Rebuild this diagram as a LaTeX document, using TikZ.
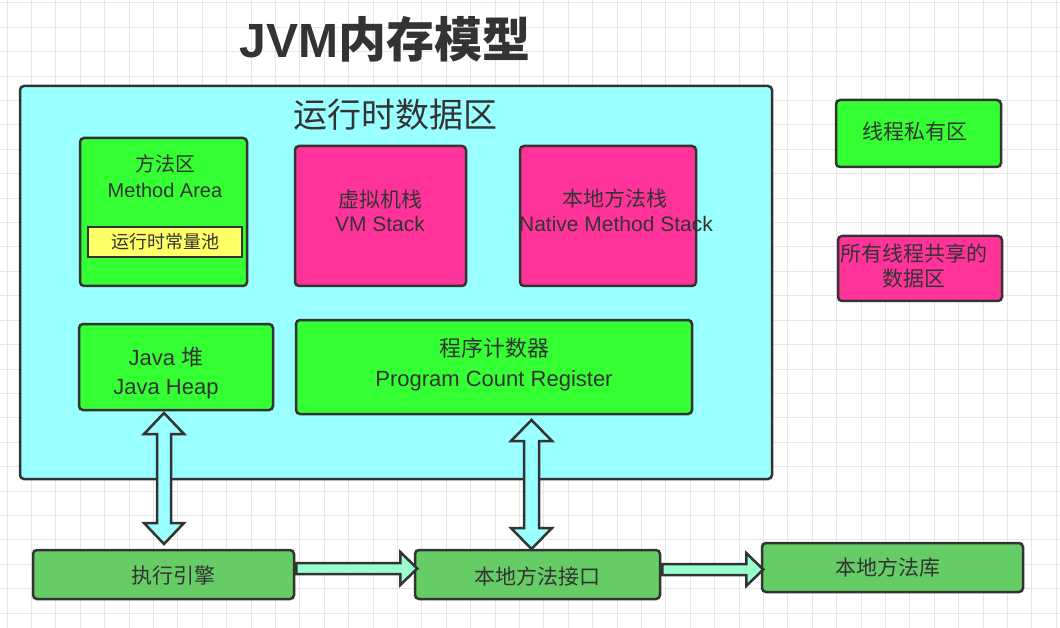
\documentclass[tikz,border=0pt]{standalone}
\usepackage{fontspec}
\usetikzlibrary{calc}
\setmainfont{Liberation Sans}
\newfontfamily\cjk{Noto Sans CJK SC}
\definecolor{bd}{HTML}{333333}
\definecolor{tx}{HTML}{333333}
\definecolor{cyanfill}{HTML}{99FFFF}
\definecolor{greenfill}{HTML}{33FF33}
\definecolor{pinkfill}{HTML}{FF3399}
\definecolor{yellowfill}{HTML}{FFFF66}
\definecolor{dkgreen}{HTML}{66CC66}
\definecolor{mint}{HTML}{99FFCC}
\definecolor{gridc}{HTML}{E6E6E6}
\tikzset{
  box/.style={draw=bd, line width=2.5pt, rounded corners=4pt, inner sep=0pt},
  txt/.style={text=tx, anchor=base, inner sep=0pt},
  blockarrow/.style={draw=bd, line width=2.5pt, line join=miter},
  gridline/.style={draw=gridc, line width=1pt}
}
\newcommand{\fs}[1]{\fontsize{#1}{#1}\selectfont}
\begin{document}
\begin{tikzpicture}[x=1pt,y=-1pt]
\useasboundingbox (0,0) rectangle (1060,628);
\fill[white] (0,0) rectangle (1060,628);
% grid
\foreach \i in {0,...,43} {\draw[gridline] (7+24.4*\i,0) -- (7+24.4*\i,628);}
\foreach \j in {0,...,25} {\draw[gridline] (0,3+24.4*\j) -- (1060,3+24.4*\j);}
% title
\node[txt, font=\fs{48}\bfseries] (title) at (385,58) {JVM{\cjk 内存模型}};
% runtime data area
\node[box, fill=cyanfill, minimum width=752, minimum height=393] (rt) at (396,282.5) {};
\node[txt, font=\fs{34}\cjk] (rt-t) at (395,128) {运行时数据区};
% method area
\node[box, fill=greenfill, minimum width=167, minimum height=148] (ma) at (163.5,212) {};
\node[txt, font=\fs{20}\cjk] (ma-t1) at (165,172) {方法区};
\node[txt, font=\fs{20}] (ma-t2) at (165,198) {Method Area};
\node[box, fill=yellowfill, line width=2pt, rounded corners=0pt, minimum width=154, minimum height=30] (cp) at (165,242) {};
\node[txt, font=\fs{18}\cjk] (cp-t) at (165,249) {运行时常量池};
% VM stack
\node[box, fill=pinkfill, minimum width=171, minimum height=140] (vm) at (380.5,216) {};
\node[txt, font=\fs{21}\cjk] (vm-t1) at (380,208) {虚拟机栈};
\node[txt, font=\fs{21}] (vm-t2) at (380,232) {VM Stack};
% native method stack
\node[box, fill=pinkfill, minimum width=176, minimum height=140] (nm) at (608,216) {};
\node[txt, font=\fs{21}\cjk] (nm-t1) at (615,207) {本地方法栈};
\node[txt, font=\fs{21}] (nm-t2) at (616,232) {Native Method Stack};
% heap
\node[box, fill=greenfill, minimum width=194, minimum height=86] (heap) at (176,367) {};
\node[txt, font=\fs{22}] (heap-t1) at (166,365) {Java {\cjk 堆}};
\node[txt, font=\fs{22}] (heap-t2) at (166,394) {Java Heap};
% program counter
\node[box, fill=greenfill, minimum width=396, minimum height=94] (pc) at (494,367) {};
\node[txt, font=\fs{22}\cjk] (pc-t1) at (494,356) {程序计数器};
\node[txt, font=\fs{22}] (pc-t2) at (494,386) {Program Count Register};
% legend
\node[box, fill=greenfill, minimum width=165, minimum height=67] (lg1) at (918.5,133.5) {};
\node[txt, font=\fs{21}\cjk] (lg1-t) at (915,140) {线程私有区};
\node[box, fill=pinkfill, minimum width=164, minimum height=65] (lg2) at (920,268.5) {};
\node[txt, font=\fs{21}\cjk] (lg2-t1) at (914,262) {所有线程共享的};
\node[txt, font=\fs{21}\cjk] (lg2-t2) at (914,287) {数据区};
% bottom boxes
\node[box, fill=dkgreen, minimum width=261, minimum height=49] (exec) at (163.5,574.5) {};
\node[txt, font=\fs{21}\cjk] (exec-t) at (173,583) {执行引擎};
\node[box, fill=dkgreen, minimum width=245, minimum height=49] (nmi) at (537.5,574.5) {};
\node[txt, font=\fs{21}\cjk] (nmi-t) at (537,584) {本地方法接口};
\node[box, fill=dkgreen, minimum width=261, minimum height=49] (nml) at (892.5,567.5) {};
\node[txt, font=\fs{21}\cjk] (nml-t) at (888,575) {本地方法库};
% arrows
\coordinate (a1) at (164,413);
\coordinate (a2) at (531.5,420);
\coordinate (h1) at ($(exec.east)+(1,-11.5)$);
\coordinate (h2) at ($(nmi.east)+(1,-10.5)$);
\draw[blockarrow, fill=cyanfill] (a1) -- ++(20,21) -- ++(-13,0) -- ++(0,89) -- ++(13,0) -- ++(-20,21) -- ++(-20,-21) -- ++(13,0) -- ++(0,-89) -- ++(-13,0) -- cycle;
\draw[blockarrow, fill=cyanfill] (a2) -- ++(20.5,21) -- ++(-13,0) -- ++(0,87) -- ++(13,0) -- ++(-20.5,21) -- ++(-20.5,-21) -- ++(13,0) -- ++(0,-87) -- ++(-13,0) -- cycle;
\draw[blockarrow, fill=mint] (h1) -- ++(104,0) -- ++(0,-11) -- ++(17,16.5) -- ++(-17,16.5) -- ++(0,-11) -- ++(-104,0) -- cycle;
\draw[blockarrow, fill=mint] (h2) -- ++(84,0) -- ++(0,-11) -- ++(17,16.5) -- ++(-17,16.5) -- ++(0,-11) -- ++(-84,0) -- cycle;
\end{tikzpicture}
\end{document}
